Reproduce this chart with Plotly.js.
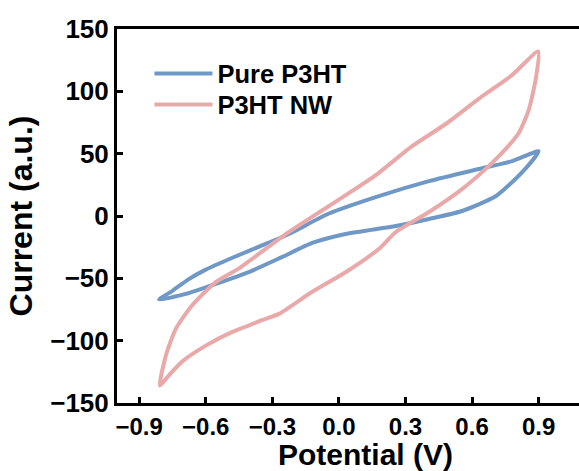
<!DOCTYPE html>
<html>
<head>
<meta charset="utf-8">
<script src="https://cdn.plot.ly/plotly-3.0.1.min.js"></script>
<style>
html, body { margin:0; padding:0; overflow:hidden; background:#fff; }
#chart { width:585px; height:471px; }
</style>
</head>
<body>
<div id="chart"></div>
<script>
// Pure P3HT: forward scan then reverse scan (Potential V, Current a.u.)
const pureV = [-0.81, -0.75, -0.68, -0.6, -0.48, -0.33, -0.225, -0.045, 0.18, 0.406, 0.63, 0.78, 0.9,
               0.825, 0.708, 0.555, 0.406, 0.257, 0.03, -0.12, -0.257, -0.406, -0.555, -0.69, -0.81];
const pureI = [-67, -60, -51, -43, -33.5, -22.4, -14.4, 2, 16, 28, 37.7, 44, 52,
               35, 16, 4, -2.4, -8, -14.4, -21.6, -33, -45, -54.5, -62.5, -67];

// P3HT NW: forward scan then reverse scan
const nwV = [-0.807, -0.78, -0.735, -0.663, -0.555, -0.45, -0.33, -0.225, -0.045, 0.16, 0.33, 0.483, 0.63, 0.78, 0.898,
             0.889, 0.857, 0.812, 0.753, 0.663, 0.555, 0.406, 0.257, 0.18, 0.032, -0.122, -0.27, -0.33, -0.48, -0.6, -0.708, -0.767, -0.807];
const nwI = [-136, -112, -90.5, -72, -53, -42, -26.4, -12.8, 8, 32, 56, 74, 94, 113, 132,
             112, 86, 67, 54, 38, 21.6, 3.2, -12.8, -26.4, -44.9, -61, -78.5, -82.5, -93, -104, -117, -128, -136];

const seriesNames = ['Pure P3HT', 'P3HT NW'];
const xTicks = [-0.9, -0.6, -0.3, 0.0, 0.3, 0.6, 0.9];
const yTicks = [-150, -100, -50, 0, 50, 100, 150];
const xTitle = 'Potential (V)';
const yTitle = 'Current (a.u.)';

const fontFam = 'Arial, "Liberation Sans", sans-serif';
const legFont = {family: fontFam, size: 25.5, color: '#000', weight: 'bold'};

const traces = [
  {x: pureV, y: pureI, name: seriesNames[0], mode: 'lines', legend: 'legend',
   line: {color: '#7098c7', width: 4, shape: 'spline', smoothing: 0.6}},
  {x: nwV, y: nwI, name: seriesNames[1], mode: 'lines', legend: 'legend2',
   line: {color: '#e9a9a9', width: 4, shape: 'spline', smoothing: 0.6}}
];

const axisCommon = {
  showgrid: false, zeroline: false, showline: true, linecolor: '#000', linewidth: 3,
  mirror: true, ticks: 'inside', ticklen: 6, tickwidth: 3, tickcolor: '#000',
  tickfont: {family: fontFam, size: 26, color: '#000', weight: 'bold'}
};

const layout = {
  width: 585, height: 471,
  margin: {l: 117, r: 2, t: 29, b: 68},
  paper_bgcolor: '#fff', plot_bgcolor: '#fff',
  showlegend: true,
  legend: {x: 0.0696, y: 0.88, xanchor: 'left', yanchor: 'middle', bgcolor: 'rgba(0,0,0,0)',
           itemwidth: 58, font: legFont},
  legend2: {x: 0.0696, y: 0.797, xanchor: 'left', yanchor: 'middle', bgcolor: 'rgba(0,0,0,0)',
           itemwidth: 58, font: legFont},
  xaxis: Object.assign({}, axisCommon, {
    range: [-1.0, 1.1], tickvals: xTicks, tickformat: '.1f',
    tickfont: {family: fontFam, size: 24, color: '#000', weight: 'bold'}
  }),
  yaxis: Object.assign({}, axisCommon, {
    range: [-150, 150], tickvals: yTicks,
    title: {text: yTitle, standoff: 9, font: {family: fontFam, size: 32, color: '#000', weight: 'bold'}}
  }),
  annotations: [{
    text: xTitle, xref: 'paper', yref: 'paper', x: 0.534, y: -0.182,
    xanchor: 'center', yanchor: 'bottom', yshift: -1, showarrow: false, borderpad: 0,
    font: {family: fontFam, size: 30, color: '#000', weight: 'bold'}
  }]
};

Plotly.newPlot('chart', traces, layout, {displayModeBar: false, staticPlot: true});
</script>
</body>
</html>
